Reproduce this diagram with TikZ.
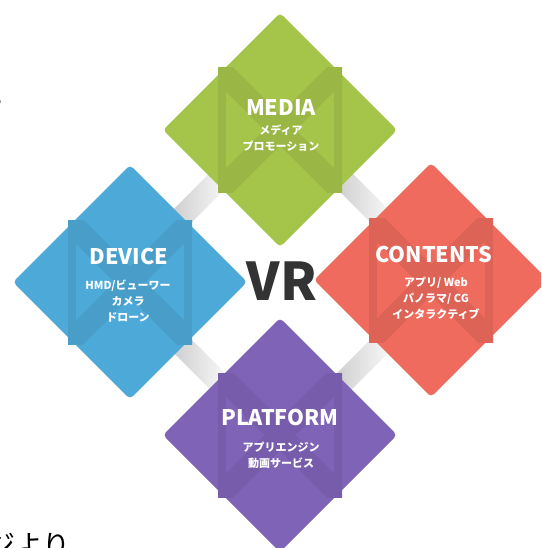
\documentclass[tikz,border=0pt]{standalone}
\usepackage{fontspec}
\newfontfamily\jp{Noto Sans CJK JP}
\usetikzlibrary{shapes.geometric}
\definecolor{cgreen}{HTML}{A5C44A}
\definecolor{cblue}{HTML}{4DA9D8}
\definecolor{cred}{HTML}{EF6B5E}
\definecolor{cpurple}{HTML}{7F63B7}
\definecolor{cvr}{HTML}{333333}
\tikzset{
  dia/.style={diamond, aspect=1, inner sep=0pt, outer sep=0pt,
    minimum width=234pt, minimum height=234pt, rounded corners=4pt},
  ttl/.style={text=white, font=\jp\bfseries\fontsize{21.5}{21.5}\selectfont, inner sep=0pt},
  sub/.style={text=white, font=\jp\bfseries\fontsize{11}{16}\selectfont, align=center, inner sep=0pt},
  barshade/.style={left color=black!22, right color=white},
  frag/.style={text=black, font=\jp\fontsize{22}{22}\selectfont, inner sep=0pt},
}
\newcommand\xpattern[2]{%
  \begin{scope}[shift={(#1.center)}]
    \clip (-62,-62) rectangle (62,62);
    \fill[#2!93!black] (0,-15.6) -- (100,-115.6) -- (115.6,-100) -- (15.6,0)
      -- (115.6,100) -- (100,115.6) -- (0,15.6) -- (-100,115.6)
      -- (-115.6,100) -- (-15.6,0) -- (-115.6,-100) -- (-100,-115.6) -- cycle;
    \fill[#2!93!black] (-62,-50) rectangle (-54,50);
    \fill[#2!93!black] (54,-50) rectangle (62,50);
  \end{scope}}
\begin{document}
\begin{tikzpicture}[x=1pt,y=-1pt]
\fill[white] (0,0) rectangle (541,548);
\useasboundingbox (0,0) rectangle (541,548);
\clip (0,0) rectangle (541,548);
% connector bars
\coordinate (bTL) at (207,207);
\coordinate (bTR) at (355,207);
\coordinate (bBR) at (355,355);
\coordinate (bBL) at (207,355);
\begin{scope}[shift={(bTL)}, rotate=135]
  \shade[barshade] (0,-40) rectangle (22,40);
\end{scope}
\begin{scope}[shift={(bTR)}, rotate=45]
  \shade[barshade] (0,-40) rectangle (22,40);
\end{scope}
\begin{scope}[shift={(bBR)}, rotate=-45]
  \shade[barshade] (0,-40) rectangle (22,40);
\end{scope}
\begin{scope}[shift={(bBL)}, rotate=-135]
  \shade[barshade] (0,-40) rectangle (22,40);
\end{scope}
% diamonds
\node[dia, fill=cgreen] (media) at (280,130) {};
\node[dia, fill=cblue] (device) at (130,282) {};
\node[dia, fill=cred] (contents) at (431,280) {};
\node[dia, fill=cpurple] (platform) at (280,435) {};
\xpattern{media}{cgreen}
\xpattern{device}{cblue}
\xpattern{contents}{cred}
\xpattern{platform}{cpurple}
% texts
\node[ttl] (tmedia) at (281,107) {MEDIA};
\node[sub] (smedia) at (281,138.5) {メディア\\プロモーション};
\node[ttl] (tdevice) at (129,257) {DEVICE};
\node[sub] (sdevice) at (128,301) {HMD/ビューワー\\カメラ\\ドローン};
\node[ttl] (tcontents) at (434,255) {CONTENTS};
\node[sub] (scontents) at (436,298) {アプリ/ Web\\パノラマ/ CG\\インタラクティブ};
\node[ttl] (tplatform) at (280,417) {PLATFORM};
\node[sub] (splatform) at (281,455.5) {アプリエンジン\\動画サービス};
\node[text=cvr, font=\jp\bfseries\fontsize{52}{52}\selectfont, inner sep=0pt] (vr) at (282,281) {VR};
% cut-off fragments of surrounding text
\node[frag, anchor=east] (f1) at (5,103) {ゃ};
\node[frag, anchor=east] (f2) at (4,172) {る};
\node[text=black, font=\jp\fontsize{28}{28}\selectfont, inner sep=0pt, anchor=base east] (f3) at (71,555) {ジより};
\end{tikzpicture}
\end{document}
